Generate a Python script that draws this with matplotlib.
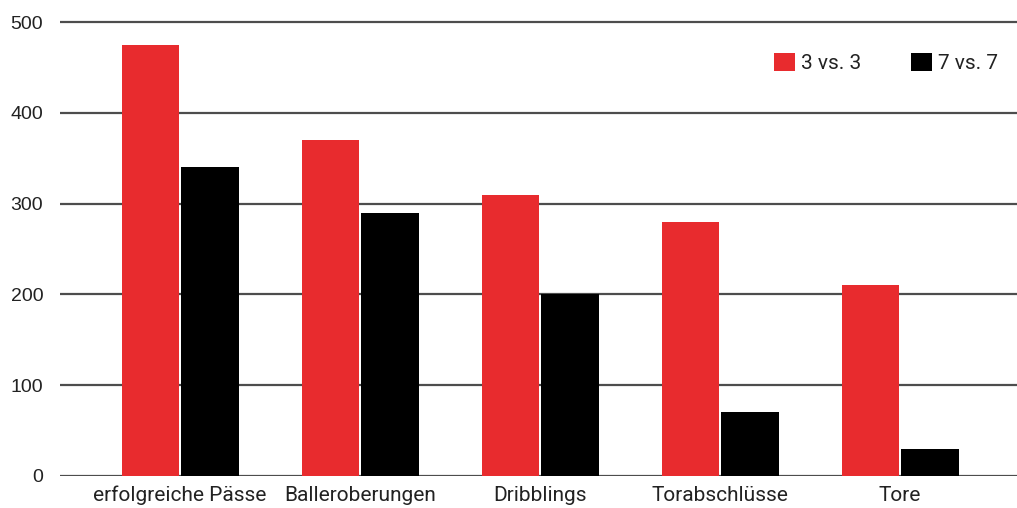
import matplotlib
matplotlib.use("Agg")
import matplotlib.pyplot as plt
import numpy as np

categories = ["erfolgreiche Pässe", "Balleroberungen", "Dribblings", "Torabschlüsse", "Tore"]
series_names = ["3 vs. 3", "7 vs. 7"]
values_3v3 = [475, 370, 310, 280, 210]
values_7v7 = [340, 290, 200, 70, 30]
yticks = [0, 100, 200, 300, 400, 500]

red = "#e82b2e"
black = "#000000"
narrow = ["Roboto", "DejaVu Sans"]

fig = plt.figure(figsize=(10.17, 5.08), dpi=100)
ax = fig.add_axes([60 / 1017, 32 / 508, 957 / 1017, 463 / 508])

x = np.arange(len(categories))
w = 0.32
ax.bar(x - 0.165, values_3v3, w, color=red, label=series_names[0], zorder=3)
ax.bar(x + 0.165, values_7v7, w, color=black, label=series_names[1], zorder=3)

ax.set_xlim(-0.667, 4.65)
ax.set_ylim(0, 510)
ax.set_yticks(yticks)
ax.grid(axis="y", color="#4d4d4d", linewidth=1.6, zorder=0)
for s in ax.spines.values():
    s.set_visible(False)
ax.tick_params(axis="both", length=0)
ax.tick_params(axis="y", pad=12, labelsize=14, labelcolor="#222222")
ax.set_xticks(x)
ax.set_xticklabels(categories, fontsize=15, family=narrow, color="#222222")
ax.tick_params(axis="x", pad=7)
for t in ax.get_yticklabels():
    t.set_family(["Liberation Sans", "DejaVu Sans"])

leg = ax.legend(loc="upper right", bbox_to_anchor=(1.0, 0.955), ncol=2, frameon=False,
                prop={"family": narrow, "size": 15}, handlelength=1.0, handleheight=1.0,
                handletextpad=0.3, columnspacing=2.4)
for t in leg.get_texts():
    t.set_color("#222222")

fig.savefig("out.png", dpi=100)
